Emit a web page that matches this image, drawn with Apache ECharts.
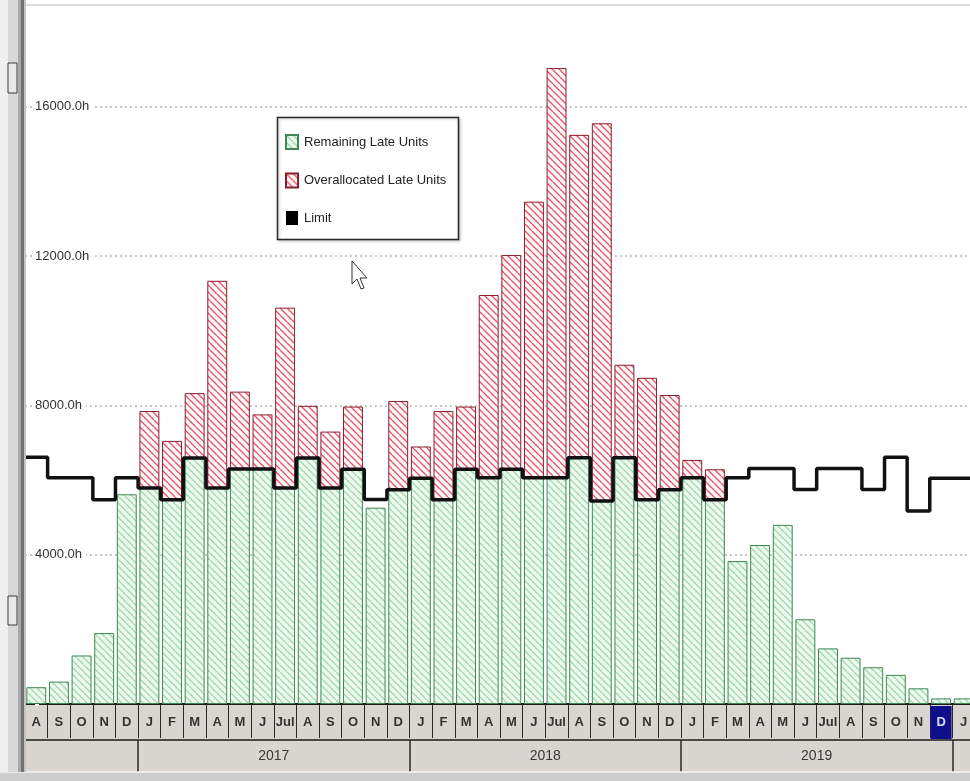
<!DOCTYPE html>
<html>
<head>
<meta charset="utf-8">
<title>Resource Usage Profile</title>
<script src="https://cdn.jsdelivr.net/npm/echarts@6/dist/echarts.min.js"></script>
<style>
  html, body { margin: 0; padding: 0; background: #ffffff; overflow: hidden; width: 970px; height: 781px; }
  #chart { width: 978px; height: 781px; }
</style>
</head>
<body>
<div id="chart"></div>
<script>
// Monthly periods, Aug 2016 .. Jan 2020 (the last month runs past the right edge of the view)
const periods = [
  '2016-08', '2016-09', '2016-10', '2016-11', '2016-12',
  '2017-01', '2017-02', '2017-03', '2017-04', '2017-05', '2017-06',
  '2017-07', '2017-08', '2017-09', '2017-10', '2017-11', '2017-12',
  '2018-01', '2018-02', '2018-03', '2018-04', '2018-05', '2018-06',
  '2018-07', '2018-08', '2018-09', '2018-10', '2018-11', '2018-12',
  '2019-01', '2019-02', '2019-03', '2019-04', '2019-05', '2019-06',
  '2019-07', '2019-08', '2019-09', '2019-10', '2019-11', '2019-12',
  '2020-01'
];

// Month captions shown in the timescale row (Jan..Dec)
const monthLetters = ['J', 'F', 'M', 'A', 'M', 'J', 'Jul', 'A', 'S', 'O', 'N', 'D'];

// Remaining late units within the limit (hours)
const remainingLate = [
  450, 600, 1300, 1900, 5620,
  5790, 5470, 6590, 5790, 6300, 6300, 5790, 6590, 5790, 6290, 5260, 5740,
  6050, 5470, 6290, 6060, 6290, 6060, 6060, 6600, 5440, 6600, 5470, 5740,
  6060, 5470, 3830, 4260, 4800, 2270, 1490, 1240, 985, 780, 420, 150,
  150
];

// Late units above the limit (hours)
const overallocatedLate = [
  null, null, null, null, null,
  2060, 1580, 1740, 5550, 2070, 1460, 4830, 1400, 1510, 1680, null, 2380,
  850, 2380, 1680, 4900, 5740, 7400, 10980, 8650, 10120, 2490, 3270, 2540,
  480, 820, null, null, null, null, null, null, null, null, null, null,
  null
];

// Resource limit per month (hours)
const limitUnits = [
  6610, 6060, 6060, 5470, 6060,
  5790, 5470, 6590, 5790, 6300, 6300, 5790, 6590, 5790, 6290, 5480, 5740,
  6050, 5470, 6290, 6060, 6290, 6060, 6060, 6600, 5440, 6600, 5470, 5740,
  6060, 5470, 6060, 6310, 6310, 5750, 6310, 6310, 5750, 6610, 5170, 6050,
  6050
];

// Period shown as the current one in the timescale
const currentPeriod = '2019-12';

// Diagonal hatch fill used by the bars
function hatch(bg, line, lw, step) {
  const c = document.createElement('canvas');
  c.width = step; c.height = step;
  const g = c.getContext('2d');
  g.fillStyle = bg;
  g.fillRect(0, 0, step, step);
  g.strokeStyle = line;
  g.lineWidth = lw;
  g.beginPath();
  [-step, 0, step].forEach(function (o) {
    g.moveTo(o, 0);
    g.lineTo(o + step, step);
  });
  g.stroke();
  return c;
}

const greenFill = { image: hatch('#edf9ef', '#9fd8aa', 1.3, 7), repeat: 'repeat' };
const redFill = { image: hatch('#fff7f7', '#e05468', 1.3, 7), repeat: 'repeat' };

// Step outline of the limit, one flat segment per month
const limitSteps = limitUnits.map(function (v, i) { return [i, v]; });
limitSteps.push([limitUnits.length, limitUnits[limitUnits.length - 1]]);

const labelFont = "'Liberation Sans Narrow', 'Liberation Sans', Arial, sans-serif";
const W = 978;

const chart = echarts.init(document.getElementById('chart'), null, { renderer: 'canvas' });

chart.setOption({
  animation: false,
  backgroundColor: '#ffffff',
  grid: { left: 25, top: 5, right: 0, height: 699, containLabel: false },
  legend: {
    orient: 'vertical',
    left: 285, top: 134,
    padding: 0,
    itemGap: 22.5,
    itemWidth: 12, itemHeight: 14,
    z: 6,
    textStyle: { fontFamily: labelFont, fontSize: 13, color: '#222', padding: [0, 0, 0, 1] },
    data: [
      { name: 'Remaining Late Units', icon: 'rect' },
      { name: 'Overallocated Late Units', icon: 'rect' },
      { name: 'Limit', icon: 'rect' }
    ]
  },
  xAxis: [
    {
      type: 'category',
      data: periods,
      position: 'bottom',
      axisLine: { show: true, lineStyle: { color: '#1c1c1c', width: 2 } },
      axisTick: { show: true, length: 34, lineStyle: { color: '#2a2a2a', width: 1 } },
      axisLabel: {
        interval: 0,
        margin: 2,
        lineHeight: 33,
        fontFamily: labelFont,
        fontWeight: 'bold',
        fontSize: 13,
        color: '#333333',
        formatter: function (v) {
          const m = monthLetters[parseInt(v.slice(5), 10) - 1];
          return v === currentPeriod ? '{cur|' + m + '}' : m;
        },
        rich: {
          cur: {
            backgroundColor: '#0f0f8a', color: '#dcdcff',
            width: 21, height: 33, lineHeight: 33, align: 'center',
            fontFamily: labelFont, fontWeight: 'bold', fontSize: 13
          }
        }
      },
      splitLine: { show: false }
    },
    {
      type: 'category',
      data: periods,
      position: 'bottom',
      offset: 36,
      axisLine: { show: true, lineStyle: { color: '#1c1c1c', width: 1.5 } },
      axisTick: {
        show: true, length: 32,
        interval: function (i, v) { return v.slice(5) === '01'; },
        lineStyle: { color: '#2a2a2a', width: 1.5 }
      },
      axisLabel: {
        interval: 0,
        margin: 1,
        lineHeight: 30,
        fontFamily: "'Liberation Sans', Arial, sans-serif",
        fontSize: 14,
        color: '#3a3a3a',
        padding: [0, 22.68, 0, 0],
        formatter: function (v) { return v.slice(5) === '07' ? v.slice(0, 4) : ''; }
      },
      splitLine: { show: false }
    },
    {
      type: 'value',
      min: 0, max: periods.length,
      show: false
    }
  ],
  yAxis: {
    type: 'value',
    min: 0, max: 18730, interval: 4000,
    axisLine: { show: false },
    axisTick: { show: false },
    axisLabel: {
      inside: true, margin: 10, align: 'left',
      showMaxLabel: false,
      fontFamily: "'Liberation Sans', Arial, sans-serif",
      fontSize: 13, color: '#333',
      backgroundColor: '#ffffff', padding: [2, 4, 2, 0],
      formatter: function (v) { return (v === 0 || v % 4000 !== 0) ? '' : v.toFixed(1) + 'h'; }
    },
    splitLine: { show: true, lineStyle: { color: '#b5b5b5', width: 1.5, type: [2, 3] } }
  },
  series: [
    {
      name: 'Remaining Late Units',
      type: 'bar',
      stack: 'late',
      barCategoryGap: '12%',
      data: remainingLate,
      itemStyle: { color: greenFill, borderColor: '#3f8656', borderWidth: 1 },
      z: 2
    },
    {
      name: 'Overallocated Late Units',
      type: 'bar',
      stack: 'late',
      barCategoryGap: '12%',
      data: overallocatedLate,
      itemStyle: { color: redFill, borderColor: '#8c1c2c', borderWidth: 1 },
      z: 2
    },
    {
      name: 'Limit',
      type: 'line',
      xAxisIndex: 2,
      step: 'end',
      data: limitSteps,
      showSymbol: false,
      symbol: 'none',
      lineStyle: { color: '#111111', width: 3.5 },
      itemStyle: { color: '#000000' },
      z: 4
    }
  ],
  graphic: [
    // timescale rows
    { type: 'rect', z: -10, shape: { x: 25, y: 705, width: W - 25, height: 35 }, style: { fill: '#d9d6d1' } },
    { type: 'rect', z: -10, shape: { x: 25, y: 740, width: W - 25, height: 32 }, style: { fill: '#d9d6d1' } },
    { type: 'rect', z: 10, shape: { x: 0, y: 772, width: W, height: 9 }, style: { fill: '#cdcdcd' } },
    { type: 'line', z: 10, shape: { x1: 0, y1: 772, x2: W, y2: 772 }, style: { stroke: '#f2f2f2', lineWidth: 1.5 } },
    // top frame line
    { type: 'rect', z: 10, shape: { x: 25, y: 0, width: W - 25, height: 4 }, style: { fill: '#ffffff' } },
    { type: 'line', z: 10, shape: { x1: 25, y1: 5, x2: W, y2: 5 }, style: { stroke: '#dcdcdc', lineWidth: 2 } },
    // left scroll strip and border
    { type: 'rect', z: 10, shape: { x: 0, y: 0, width: 8, height: 772 }, style: { fill: '#efefef' } },
    { type: 'rect', z: 10, shape: { x: 8, y: 0, width: 10, height: 772 }, style: { fill: '#d8d8d8' } },
    { type: 'rect', z: 10, shape: { x: 18, y: 0, width: 3, height: 772 }, style: { fill: '#a8a8a8' } },
    { type: 'rect', z: 10, shape: { x: 21, y: 0, width: 3, height: 772 }, style: { fill: '#707070' } },
    { type: 'rect', z: 10, shape: { x: 24, y: 0, width: 2, height: 772 }, style: { fill: '#c4c4c4' } },
    { type: 'rect', z: 11, shape: { x: 8, y: 63, width: 9, height: 30 }, style: { fill: '#e9e9e9', stroke: '#3a3a3a', lineWidth: 1 } },
    { type: 'rect', z: 11, shape: { x: 8, y: 596, width: 9, height: 29 }, style: { fill: '#e9e9e9', stroke: '#3a3a3a', lineWidth: 1 } },
    // legend frame
    {
      type: 'rect', z: 5,
      shape: { x: 277.5, y: 117.5, width: 181, height: 122 },
      style: { fill: '#ffffff', stroke: '#2a2a2a', lineWidth: 1.5, shadowColor: 'rgba(0,0,0,0.25)', shadowBlur: 3, shadowOffsetX: 1, shadowOffsetY: 1 }
    },
    // mouse pointer
    {
      type: 'polygon', z: 20,
      shape: { points: [[352, 261], [352, 284], [357, 279], [361, 289], [364, 288], [360, 278], [367, 278]] },
      style: { fill: '#ffffff', stroke: '#333333', lineWidth: 1 }
    }
  ]
});
</script>
</body>
</html>
